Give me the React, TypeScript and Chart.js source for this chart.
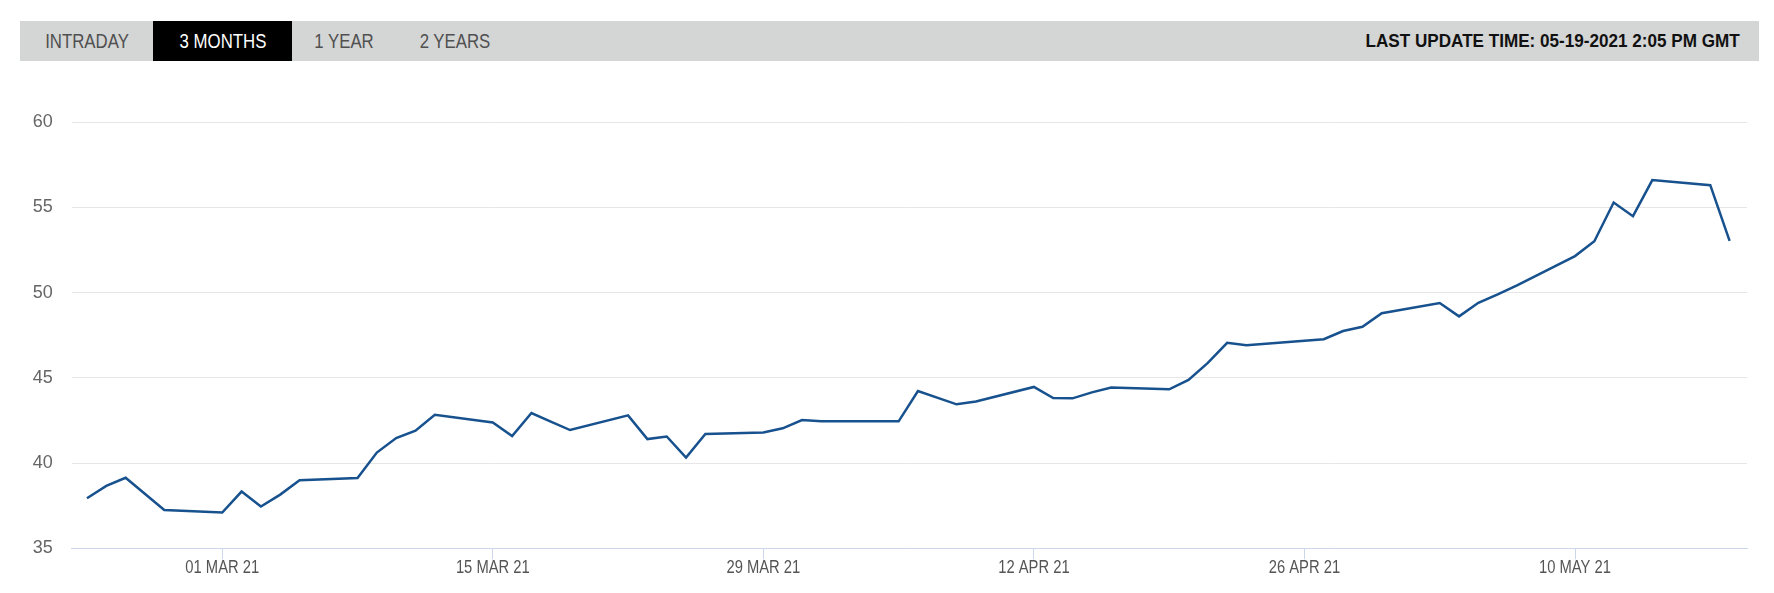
import React, { useEffect, useRef } from "react";
import { Chart, registerables } from "chart.js";

Chart.register(...registerables);

// ---- data ----
const dates: string[] = [
  "2021-02-22", "2021-02-23", "2021-02-24", "2021-02-26",
  "2021-03-01", "2021-03-02", "2021-03-03", "2021-03-04", "2021-03-05",
  "2021-03-08", "2021-03-09", "2021-03-10", "2021-03-11", "2021-03-12",
  "2021-03-15", "2021-03-16", "2021-03-17", "2021-03-18", "2021-03-19",
  "2021-03-22", "2021-03-23", "2021-03-24", "2021-03-25", "2021-03-26",
  "2021-03-29", "2021-03-30", "2021-03-31", "2021-04-01",
  "2021-04-05", "2021-04-06", "2021-04-08", "2021-04-09",
  "2021-04-12", "2021-04-13", "2021-04-14", "2021-04-15", "2021-04-16",
  "2021-04-19", "2021-04-20", "2021-04-21", "2021-04-22", "2021-04-23",
  "2021-04-27", "2021-04-28", "2021-04-29", "2021-04-30",
  "2021-05-03", "2021-05-04", "2021-05-05", "2021-05-06", "2021-05-07",
  "2021-05-10", "2021-05-11", "2021-05-12", "2021-05-13", "2021-05-14",
  "2021-05-17", "2021-05-18",
];

const prices: number[] = [
  37.94, 38.66, 39.14, 37.25,
  37.1, 38.33, 37.45, 38.15, 39.0,
  39.12, 40.62, 41.47, 41.9, 42.84,
  42.38, 41.59, 42.94, 42.43, 41.94,
  42.8, 41.41, 41.56, 40.33, 41.71,
  41.8, 42.04, 42.53, 42.45,
  42.45, 44.23, 43.45, 43.61,
  44.47, 43.82, 43.8, 44.15, 44.43,
  44.33, 44.88, 45.88, 47.06, 46.92,
  47.27, 47.75, 48.0, 48.8,
  49.39, 48.61, 49.41, 49.9, 50.43,
  52.15, 53.02, 55.29, 54.49, 56.61,
  56.31, 53.04,
];

const tickDates: string[] = [
  "2021-03-01", "2021-03-15", "2021-03-29", "2021-04-12", "2021-04-26", "2021-05-10",
];
const tickLabels: string[] = [
  "01 MAR 21", "15 MAR 21", "29 MAR 21", "12 APR 21", "26 APR 21", "10 MAY 21",
];

const yTicks: number[] = [35, 40, 45, 50, 55, 60];

const tabs: string[] = ["INTRADAY", "3 MONTHS", "1 YEAR", "2 YEARS"];
const activeTab = "3 MONTHS";
const updateText = "LAST UPDATE TIME: 05-19-2021 2:05 PM GMT";

// ---- helpers ----
const ORIGIN = Date.UTC(2021, 1, 22);
const dayOf = (s: string): number => {
  const [y, m, d] = s.split("-").map(Number);
  return (Date.UTC(y, m - 1, d) - ORIGIN) / 86400000;
};

const SANS = '"Liberation Sans", Arial, sans-serif';
const tabCenters = [86.5, 222.5, 343.5, 455];

// Draws condensed x-axis date labels under the tick marks
const condensedXLabels = {
  id: "condensedXLabels",
  afterDraw(chart: any) {
    const scale = chart.scales.x;
    const ctx = chart.ctx;
    ctx.save();
    ctx.font = `18px ${SANS}`;
    ctx.fillStyle = "#555555";
    ctx.textAlign = "center";
    ctx.textBaseline = "alphabetic";
    const baseY = scale.top + 24.5;
    tickDates.forEach((d, i) => {
      const x = scale.getPixelForValue(dayOf(d));
      ctx.save();
      ctx.translate(x, baseY);
      ctx.scale(0.82, 1);
      ctx.fillText(tickLabels[i], 0, 0);
      ctx.restore();
    });
    ctx.restore();
  },
};

export default function App() {
  const canvasRef = useRef<HTMLCanvasElement | null>(null);

  useEffect(() => {
    const ctx = canvasRef.current!;
    const tickVals = tickDates.map(dayOf);
    const chart = new Chart(ctx, {
      type: "line",
      data: {
        datasets: [
          {
            data: dates.map((d, i) => ({ x: dayOf(d), y: prices[i] })),
            borderColor: "#17518e",
            borderWidth: 2.5,
            pointRadius: 0,
            tension: 0,
            fill: false,
          },
        ],
      },
      options: {
        animation: false,
        responsive: false,
        maintainAspectRatio: false,
        layout: { padding: { left: 0, right: 27, top: 42.3, bottom: 0 } },
        plugins: { legend: { display: false }, tooltip: { enabled: false } },
        scales: {
          x: {
            type: "linear",
            min: -0.79,
            max: 85.9,
            afterBuildTicks: (scale: any) => {
              scale.ticks = tickVals.map((v) => ({ value: v }));
            },
            afterFit: (scale: any) => {
              scale.height = 44.7;
            },
            grid: {
              drawOnChartArea: false,
              drawTicks: true,
              tickLength: 11,
              color: "#ccd6eb",
            },
            border: { display: true, color: "#ccd6eb", width: 1 },
            ticks: { display: false, autoSkip: false },
          },
          y: {
            min: yTicks[0],
            max: yTicks[yTicks.length - 1],
            afterBuildTicks: (scale: any) => {
              scale.ticks = yTicks.map((v) => ({ value: v }));
            },
            afterFit: (scale: any) => {
              scale.width = 71.7;
            },
            grid: { color: "#e6e6e6", drawTicks: false, lineWidth: 1 },
            border: { display: false },
            ticks: {
              padding: 19,
              color: "#666666",
              font: { family: SANS, size: 18 },
            },
          },
        },
      },
      plugins: [condensedXLabels],
    } as any);
    return () => chart.destroy();
  }, []);

  return (
    <div style={{ position: "absolute", left: 0, top: 0, width: 1774, height: 593, background: "#fff" }}>
      <div
        style={{
          position: "absolute",
          left: 20,
          top: 21,
          width: 1739,
          height: 40,
          background: "#d4d5d5",
        }}
      />
      <div
        style={{
          position: "absolute",
          left: 153,
          top: 21,
          width: 139,
          height: 40,
          background: "#000",
        }}
      />
      {tabs.map((t, i) => (
        <div
          key={t}
          style={{
            position: "absolute",
            left: tabCenters[i] - 80,
            width: 160,
            top: 21,
            height: 40,
            lineHeight: "40px",
            textAlign: "center",
            fontFamily: SANS,
            fontSize: 20,
            color: t === activeTab ? "#fff" : "#505050",
            whiteSpace: "nowrap",
            transform: "scaleX(0.84)",
            transformOrigin: "center",
          }}
        >
          {t}
        </div>
      ))}
      <div
        style={{
          position: "absolute",
          right: 1774 - 1740,
          top: 21,
          height: 40,
          lineHeight: "40px",
          fontFamily: SANS,
          fontWeight: "bold",
          fontSize: 19,
          color: "#111",
          whiteSpace: "nowrap",
          transform: "scaleX(0.9)",
          transformOrigin: "right center",
        }}
      >
        {updateText}
      </div>
      <canvas
        ref={canvasRef}
        width={1774}
        height={513}
        style={{ position: "absolute", left: 0, top: 80, width: 1774, height: 513 }}
      />
    </div>
  );
}
